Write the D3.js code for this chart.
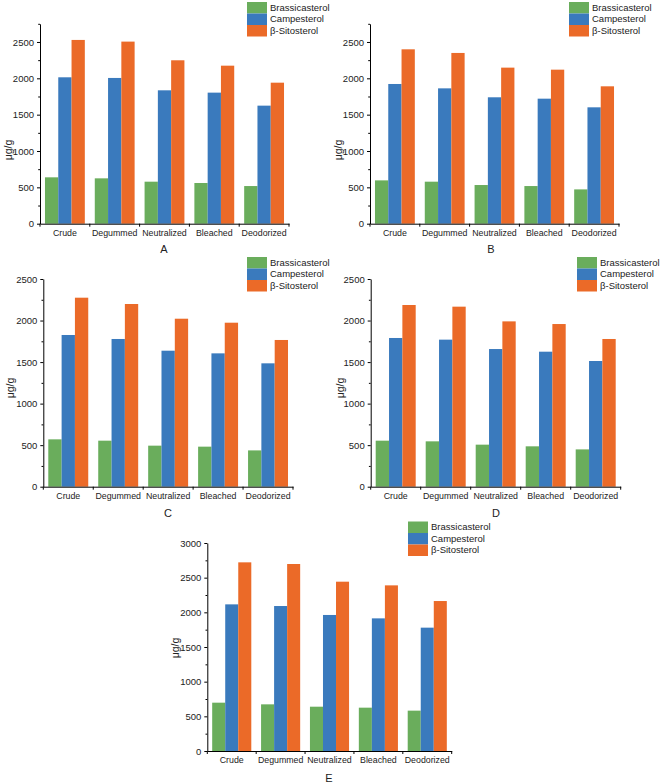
<!DOCTYPE html>
<html>
<head>
<meta charset="utf-8">
<script src="https://d3js.org/d3.v7.min.js"></script>
<style>
  body { margin: 0; background: #fff; }
  svg { font-family: "Liberation Sans", Arial, sans-serif; }
</style>
</head>
<body>
<div id="chart"></div>
<script>
// categories and series
var categories = ["Crude", "Degummed", "Neutralized", "Bleached", "Deodorized"];
var seriesNames = ["Brassicasterol", "Campesterol", "β-Sitosterol"];
var seriesColors = ["#6aad5c", "#3a7abd", "#eb6a28"];

// values (μg/g)
var brassA = [638, 624, 578, 560, 518];
var campA  = [2014, 2005, 1835, 1803, 1624];
var sitoA  = [2528, 2505, 2248, 2174, 1940];

var brassB = [596, 578, 532, 518, 472];
var campB  = [1922, 1862, 1739, 1720, 1601];
var sitoB  = [2399, 2349, 2147, 2119, 1890];

var brassC = [570, 554, 494, 482, 437];
var campC  = [1826, 1778, 1637, 1605, 1485];
var sitoC  = [2275, 2199, 2022, 1974, 1766];

var brassD = [554, 546, 506, 486, 449];
var campD  = [1790, 1770, 1657, 1625, 1513];
var sitoD  = [2187, 2167, 1990, 1958, 1778];

var brassE = [697, 673, 639, 625, 582];
var campE  = [2115, 2091, 1962, 1913, 1779];
var sitoE  = [2721, 2697, 2442, 2389, 2163];

// y tick labels per panel
var ticksAB = [0, 500, 1000, 1500, 2000, 2500];
var ticksCD = [0, 500, 1000, 1500, 2000, 2500];
var ticksE  = [0, 500, 1000, 1500, 2000, 2500, 3000];

// panel layout
var panels = [
  { label: "A", values: [brassA, campA, sitoA], ticks: ticksAB, yMax: 2750,
    x0: 40, x1: 289, yBottom: 223.7, yTop: 23.8, legX: 247, legY: 2, labelX: 164, labelY: 253, ylabX: 9, ylabY: 150 },
  { label: "B", values: [brassB, campB, sitoB], ticks: ticksAB, yMax: 2750,
    x0: 370, x1: 619, yBottom: 223.7, yTop: 23.8, legX: 569, legY: 2, labelX: 491, labelY: 253, ylabX: 339, ylabY: 150 },
  { label: "C", values: [brassC, campC, sitoC], ticks: ticksCD, yMax: 2500,
    x0: 43.3, x1: 293, yBottom: 486.7, yTop: 279, legX: 247, legY: 257, labelX: 168, labelY: 517, ylabX: 11, ylabY: 388 },
  { label: "D", values: [brassD, campD, sitoD], ticks: ticksCD, yMax: 2500,
    x0: 370.7, x1: 620.7, yBottom: 486.7, yTop: 279, legX: 577, legY: 257, labelX: 496, labelY: 517, ylabX: 341, ylabY: 388 },
  { label: "E", values: [brassE, campE, sitoE], ticks: ticksE, yMax: 3000,
    x0: 207.3, x1: 451.7, yBottom: 751, yTop: 543, legX: 408, legY: 521.5, labelX: 329, labelY: 782, ylabX: 176, ylabY: 648 }
];

var svg = d3.select("#chart").append("svg")
    .attr("width", 662)
    .attr("height", 784);

panels.forEach(function(p) {
    var g = svg.append("g");

    var x = d3.scaleBand()
        .domain(categories)
        .range([p.x0, p.x1])
        .paddingInner(0.2)
        .paddingOuter(0.1);

    var xSub = d3.scaleBand()
        .domain(seriesNames)
        .range([0, x.bandwidth()]);

    var y = d3.scaleLinear()
        .domain([0, p.yMax])
        .range([p.yBottom, p.yTop]);

    // bars
    seriesNames.forEach(function(s, si) {
        g.selectAll(null)
            .data(p.values[si])
            .enter()
            .append("rect")
            .attr("x", function(d, i) { return x(categories[i]) + xSub(s); })
            .attr("y", function(d) { return y(d); })
            .attr("width", xSub.bandwidth())
            .attr("height", function(d) { return y(0) - y(d); })
            .attr("fill", seriesColors[si]);
    });

    // Y axis: major ticks with labels, minor ticks between
    var minor = d3.range(250, p.yMax + 1, 500);
    var yAxis = g.append("g")
        .attr("transform", "translate(" + p.x0 + ",0)")
        .call(d3.axisLeft(y).tickValues(p.ticks).tickFormat(d3.format("d"))
            .tickSize(3).tickPadding(3).tickSizeOuter(0));
    g.append("g")
        .attr("transform", "translate(" + p.x0 + ",0)")
        .call(d3.axisLeft(y).tickValues(minor).tickSize(1.8).tickFormat("").tickSizeOuter(0))
        .select(".domain").remove();
    yAxis.selectAll("text").attr("font-size", "9.5px").attr("fill", "#222");

    // X axis: ticks at category boundaries
    var xAxis = g.append("g")
        .attr("transform", "translate(0," + p.yBottom + ")")
        .call(d3.axisBottom(x).tickSize(0).tickPadding(6).tickSizeOuter(0));
    xAxis.selectAll("text").attr("font-size", "8.8px").attr("fill", "#222");
    var step = x.step();
    g.selectAll(null)
        .data(d3.range(categories.length + 1))
        .enter()
        .append("line")
        .attr("x1", function(i) { return p.x0 + i * step; })
        .attr("x2", function(i) { return p.x0 + i * step; })
        .attr("y1", p.yBottom)
        .attr("y2", p.yBottom + 3)
        .attr("stroke", "#000");

    g.selectAll(".domain").attr("stroke", "#000").attr("stroke-width", 1);

    // axis titles
    g.append("text")
        .attr("transform", "translate(" + p.ylabX + "," + p.ylabY + ") rotate(-90)")
        .attr("text-anchor", "middle")
        .attr("dominant-baseline", "middle")
        .attr("font-size", "10.5px")
        .attr("fill", "#222")
        .text("μg/g");

    g.append("text")
        .attr("x", p.labelX)
        .attr("y", p.labelY)
        .attr("text-anchor", "middle")
        .attr("font-size", "11px")
        .attr("fill", "#222")
        .text(p.label);

    // legend
    var leg = g.append("g").attr("transform", "translate(" + p.legX + "," + p.legY + ")");
    seriesNames.forEach(function(s, si) {
        leg.append("rect")
            .attr("x", 0)
            .attr("y", si * 11.5)
            .attr("width", 20)
            .attr("height", 11.5)
            .attr("fill", seriesColors[si]);
        leg.append("text")
            .attr("x", 23)
            .attr("y", si * 11.5 + 6)
            .attr("dominant-baseline", "middle")
            .attr("font-size", "9.5px")
            .attr("fill", "#222")
            .text(s);
    });
});
</script>
</body>
</html>
